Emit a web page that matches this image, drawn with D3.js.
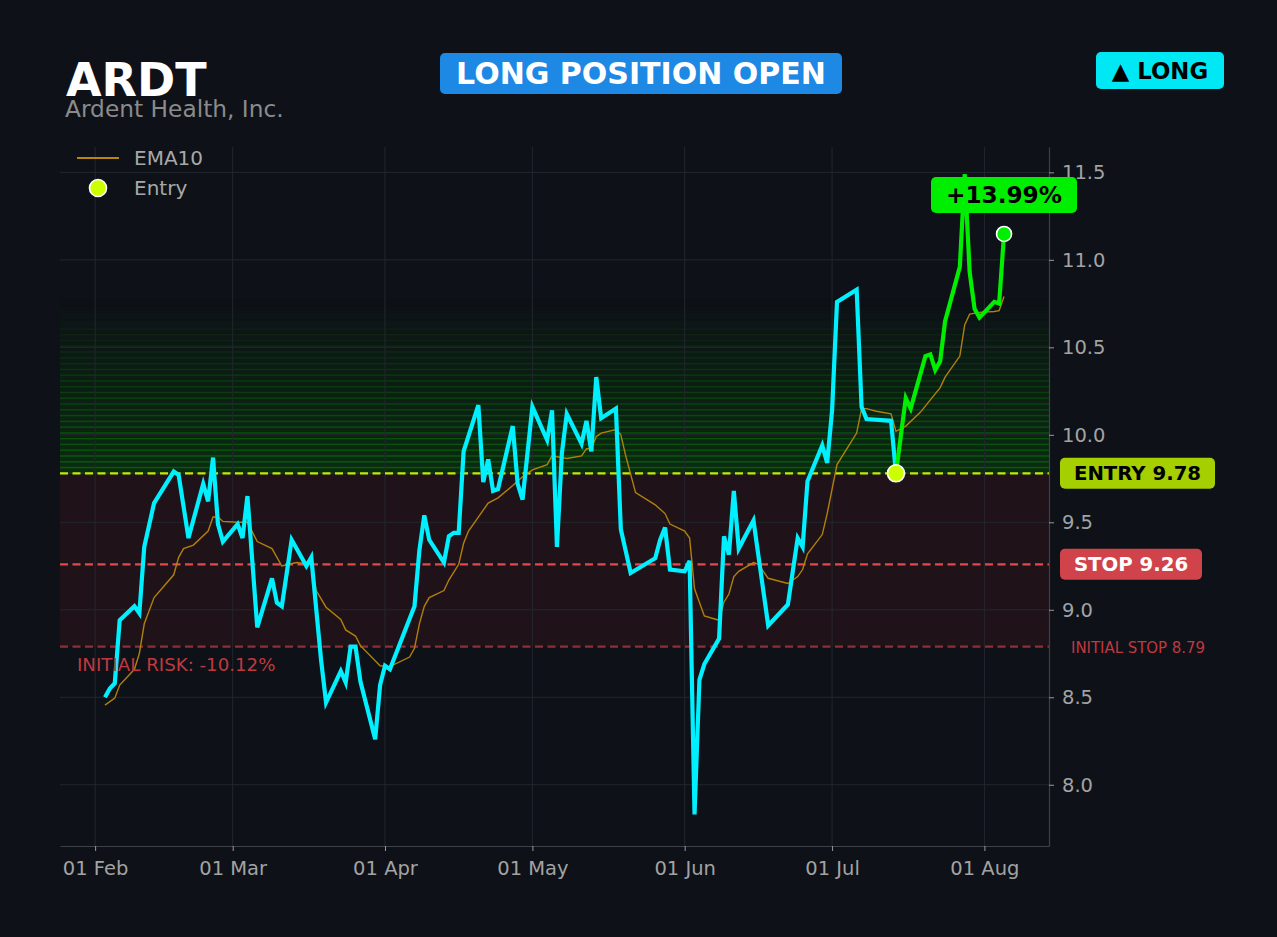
<!DOCTYPE html>
<html><head><meta charset="utf-8">
<script src="https://cdn.jsdelivr.net/npm/d3@7"></script>
<style>
body{margin:0;background:#0e1117;}
svg{display:block;font-family:"DejaVu Sans",sans-serif;}
</style>
</head><body>
<svg id="c" width="1277" height="937"></svg>
<script>
// ---------------- DATA ----------------
const ticker = "ARDT";
const companyName = "Ardent Health, Inc.";
const positionLabel = "LONG POSITION OPEN";
const sideLabel = "▲ LONG";

const priceDates = ["2025-02-03","2025-02-04","2025-02-05","2025-02-06","2025-02-09","2025-02-10","2025-02-11","2025-02-13","2025-02-17","2025-02-18","2025-02-20","2025-02-23","2025-02-24","2025-02-25","2025-02-26","2025-02-27","2025-03-02","2025-03-03","2025-03-04","2025-03-06","2025-03-09","2025-03-10","2025-03-11","2025-03-13","2025-03-16","2025-03-17","2025-03-19","2025-03-20","2025-03-23","2025-03-24","2025-03-25","2025-03-26","2025-03-27","2025-03-30","2025-03-31","2025-04-01","2025-04-02","2025-04-07","2025-04-08","2025-04-09","2025-04-10","2025-04-13","2025-04-14","2025-04-15","2025-04-16","2025-04-17","2025-04-20","2025-04-21","2025-04-22","2025-04-23","2025-04-24","2025-04-27","2025-04-28","2025-04-29","2025-05-01","2025-05-04","2025-05-05","2025-05-06","2025-05-07","2025-05-08","2025-05-11","2025-05-12","2025-05-13","2025-05-14","2025-05-15","2025-05-18","2025-05-19","2025-05-21","2025-05-26","2025-05-27","2025-05-28","2025-05-29","2025-06-01","2025-06-02","2025-06-03","2025-06-04","2025-06-05","2025-06-08","2025-06-09","2025-06-10","2025-06-11","2025-06-12","2025-06-15","2025-06-18","2025-06-22","2025-06-24","2025-06-25","2025-06-26","2025-06-29","2025-06-30","2025-07-01","2025-07-02","2025-07-06","2025-07-07","2025-07-08","2025-07-13","2025-07-14","2025-07-16","2025-07-17","2025-07-20","2025-07-21","2025-07-22","2025-07-23","2025-07-24","2025-07-27","2025-07-28","2025-07-29","2025-07-30","2025-07-31","2025-08-03","2025-08-04","2025-08-05"];
const priceValues = [8.50,8.55,8.58,8.94,9.02,8.98,9.36,9.61,9.79,9.77,9.41,9.72,9.62,9.87,9.49,9.39,9.49,9.41,9.65,8.90,9.18,9.04,9.02,9.40,9.25,9.30,8.71,8.47,8.65,8.585,8.79,8.79,8.59,8.26,8.57,8.68,8.66,9.02,9.34,9.54,9.40,9.27,9.42,9.44,9.44,9.905,10.17,9.73,9.86,9.68,9.69,10.05,9.72,9.63,10.16,9.97,10.14,9.36,9.895,10.12,9.95,10.08,9.905,10.33,10.095,10.15,9.46,9.21,9.295,9.40,9.47,9.23,9.22,9.28,7.83,8.60,8.69,8.835,9.42,9.315,9.68,9.35,9.51,8.91,9.03,9.41,9.36,9.735,9.94,9.84,10.14,10.76,10.83,10.16,10.09,10.08,9.78,10.21,10.15,10.45,10.46,10.37,10.42,10.65,10.96,11.49,10.93,10.72,10.67,10.76,10.75,11.148];

const emaDates = ["2025-02-03","2025-02-05","2025-02-06","2025-02-09","2025-02-10","2025-02-11","2025-02-13","2025-02-17","2025-02-18","2025-02-19","2025-02-21","2025-02-24","2025-02-25","2025-02-26","2025-02-27","2025-03-02","2025-03-04","2025-03-06","2025-03-09","2025-03-11","2025-03-14","2025-03-17","2025-03-18","2025-03-20","2025-03-23","2025-03-24","2025-03-26","2025-03-27","2025-03-31","2025-04-02","2025-04-06","2025-04-07","2025-04-08","2025-04-09","2025-04-10","2025-04-13","2025-04-14","2025-04-16","2025-04-17","2025-04-18","2025-04-20","2025-04-22","2025-04-24","2025-04-27","2025-04-29","2025-05-01","2025-05-04","2025-05-05","2025-05-08","2025-05-11","2025-05-12","2025-05-13","2025-05-14","2025-05-15","2025-05-18","2025-05-19","2025-05-20","2025-05-22","2025-05-26","2025-05-28","2025-05-29","2025-06-01","2025-06-02","2025-06-03","2025-06-05","2025-06-08","2025-06-09","2025-06-10","2025-06-11","2025-06-12","2025-06-15","2025-06-16","2025-06-18","2025-06-22","2025-06-24","2025-06-25","2025-06-26","2025-06-29","2025-06-30","2025-07-01","2025-07-02","2025-07-06","2025-07-07","2025-07-08","2025-07-10","2025-07-13","2025-07-14","2025-07-16","2025-07-19","2025-07-21","2025-07-23","2025-07-24","2025-07-27","2025-07-28","2025-07-29","2025-07-31","2025-08-03","2025-08-04","2025-08-05"];
const emaValues = [8.455,8.495,8.57,8.66,8.75,8.92,9.07,9.20,9.30,9.35,9.37,9.45,9.53,9.53,9.505,9.50,9.50,9.39,9.35,9.25,9.27,9.26,9.11,9.015,8.945,8.885,8.85,8.795,8.68,8.675,8.73,8.78,8.92,9.02,9.07,9.11,9.17,9.26,9.38,9.45,9.53,9.61,9.64,9.71,9.76,9.80,9.83,9.88,9.865,9.88,9.92,9.92,9.99,10.01,10.03,10.00,9.88,9.67,9.60,9.55,9.49,9.45,9.41,9.12,8.965,8.94,9.045,9.09,9.19,9.22,9.27,9.26,9.18,9.15,9.19,9.23,9.32,9.43,9.55,9.69,9.83,10.01,10.15,10.15,10.135,10.12,10.02,10.05,10.13,10.20,10.27,10.33,10.45,10.63,10.69,10.70,10.705,10.71,10.79];

const entryDate = "2025-07-14";
const entryPrice = 9.78;
const stopPrice = 9.26;
const initialStop = 8.79;

const yTicks = [8.0, 8.5, 9.0, 9.5, 10.0, 10.5, 11.0, 11.5];
const xTickDates = ["2025-02-01","2025-03-01","2025-04-01","2025-05-01","2025-06-01","2025-07-01","2025-08-01"];
const legendLabels = ["EMA10", "Entry"];

// ---------------- SETUP ----------------
const W = 1277, H = 937;
const plot = {left: 60, right: 1049, top: 147, bottom: 846};
const parse = d3.timeParse("%Y-%m-%d");
const C = {
  bg: "#0e1117", grid: "#23272e", spine: "#3d4249", tickText: "#a3a3a3",
  price: "#00f0ff", gain: "#00ee00", ema: "#b8860b",
  entry: "#c8e800", stop: "#e04a4a", initStop: "#8e3036",
  entryBox: "#a5cf00", stopBox: "#d0434a", blue: "#1e88e5", cyanBox: "#00e8f4"
};

const price = priceDates.map((d, i) => ({date: parse(d), value: priceValues[i]}));
const ema = emaDates.map((d, i) => ({date: parse(d), value: emaValues[i]}));
const entryD = parse(entryDate);
const entryIdx = price.findIndex(p => +p.date === +entryD);
const before = price.slice(0, entryIdx + 1);
const after = price.slice(entryIdx);

const ext = d3.extent(price, p => p.date);
const pad = (ext[1] - ext[0]) * 0.05;
const x = d3.scaleTime().domain([new Date(+ext[0] - pad), new Date(+ext[1] + pad)]).range([plot.left, plot.right]);
const y = d3.scaleLinear().domain([7.65, 11.645]).range([plot.bottom, plot.top]);

const svg = d3.select("#c");
svg.append("rect").attr("width", W).attr("height", H).attr("fill", C.bg);

const clipId = "plotclip";
svg.append("clipPath").attr("id", clipId).append("rect")
  .attr("x", plot.left).attr("y", plot.top)
  .attr("width", plot.right - plot.left).attr("height", plot.bottom - plot.top);

const g = svg.append("g").attr("clip-path", `url(#${clipId})`);

// risk zone
g.append("rect")
  .attr("x", plot.left).attr("width", plot.right - plot.left)
  .attr("y", y(entryPrice)).attr("height", y(initialStop) - y(entryPrice))
  .attr("fill", "#ff3b3b").attr("fill-opacity", 0.075);

// profit gradient bands
const bandCount = 30;
const bandTop = entryPrice + (entryPrice - initialStop);
const bh = (bandTop - entryPrice) / bandCount;
d3.range(bandCount).forEach(i => {
  const lo = entryPrice + i * bh, hi = lo + bh;
  const a = 0.26 * (1 - i / bandCount);
  g.append("rect")
    .attr("x", plot.left - 2).attr("width", plot.right - plot.left + 4)
    .attr("y", y(hi)).attr("height", y(lo) - y(hi))
    .attr("fill", "#008000").attr("fill-opacity", a * 0.9)
    .attr("stroke", "#0a9a0a").attr("stroke-opacity", a).attr("stroke-width", 1.5);
});

// grid
g.selectAll(".vg").data(xTickDates.map(parse)).join("line")
  .attr("x1", d => x(d)).attr("x2", d => x(d))
  .attr("y1", plot.top).attr("y2", plot.bottom)
  .attr("stroke", C.grid).attr("stroke-width", 1);
g.selectAll(".hg").data(yTicks).join("line")
  .attr("x1", plot.left).attr("x2", plot.right)
  .attr("y1", d => y(d)).attr("y2", d => y(d))
  .attr("stroke", C.grid).attr("stroke-width", 1);

// level lines
const levels = [
  {v: entryPrice, c: C.entry},
  {v: stopPrice, c: C.stop},
  {v: initialStop, c: C.initStop}
];
levels.forEach(l => {
  g.append("line").attr("x1", plot.left).attr("x2", plot.right)
    .attr("y1", y(l.v)).attr("y2", y(l.v))
    .attr("stroke", l.c).attr("stroke-width", 2.2)
    .attr("stroke-dasharray", "8,4.5");
});

// lines
const line = d3.line().x(d => x(d.date)).y(d => y(d.value));
g.append("path").datum(ema).attr("d", line)
  .attr("fill", "none").attr("stroke", C.ema).attr("stroke-width", 1.4).attr("stroke-opacity", 0.95);
g.append("path").datum(before).attr("d", line)
  .attr("fill", "none").attr("stroke", C.price).attr("stroke-width", 4.2);
g.append("path").datum(after).attr("d", line)
  .attr("fill", "none").attr("stroke", C.gain).attr("stroke-width", 4.2);

// markers
const last = price[price.length - 1];
svg.append("circle").attr("cx", x(entryD)).attr("cy", y(entryPrice)).attr("r", 8.5)
  .attr("fill", "#ccff00").attr("stroke", "#ffffff").attr("stroke-width", 1.6);
svg.append("circle").attr("cx", x(last.date)).attr("cy", y(last.value)).attr("r", 7.5)
  .attr("fill", C.gain).attr("stroke", "#ffffff").attr("stroke-width", 1.6);

// axes
const xAxis = d3.axisBottom(x).tickValues(xTickDates.map(parse))
  .tickFormat(d3.timeFormat("%d %b")).tickSizeInner(5).tickSizeOuter(0).tickPadding(10);
const yAxis = d3.axisRight(y).tickValues(yTicks)
  .tickFormat(d3.format(".1f")).tickSizeInner(5).tickSizeOuter(0).tickPadding(8);
const gx = svg.append("g").attr("transform", `translate(0,${plot.bottom})`).call(xAxis);
const gy = svg.append("g").attr("transform", `translate(${plot.right},0)`).call(yAxis);
[gx, gy].forEach(a => {
  a.select(".domain").attr("stroke", C.spine).attr("stroke-width", 1.2);
  a.selectAll(".tick line").attr("stroke", "#9a9a9a").attr("stroke-width", 1);
  a.selectAll(".tick text").attr("fill", C.tickText).attr("font-size", 19.5)
    .attr("font-family", "DejaVu Sans");
});

// right-side level labels
function badge(cx, cy, w, h, fill, text, color, size) {
  svg.append("rect").attr("x", cx).attr("y", cy).attr("width", w).attr("height", h)
    .attr("rx", 5).attr("fill", fill);
  svg.append("text").attr("x", cx + w / 2).attr("y", cy + h / 2)
    .attr("dy", "0.36em").attr("text-anchor", "middle")
    .attr("font-weight", "bold").attr("font-size", size).attr("fill", color).text(text);
}
badge(1060, y(entryPrice) - 15.5, 155, 31, C.entryBox, `ENTRY ${entryPrice.toFixed(2)}`, "#000", 19.7);
badge(1060, y(stopPrice) - 15.5, 142, 31, C.stopBox, `STOP ${stopPrice.toFixed(2)}`, "#fff", 19.7);
svg.append("text").attr("x", 1071).attr("y", y(initialStop)).attr("dy", "0.36em")
  .attr("font-family", "'DejaVu Sans Condensed','Liberation Sans Narrow','DejaVu Sans'")
  .attr("font-stretch", "condensed")
  .attr("font-size", 16.6).attr("fill", "#c0393f").text(`INITIAL STOP ${initialStop.toFixed(2)}`);

// initial risk
const riskPct = (initialStop / entryPrice - 1) * 100;
svg.append("text").attr("x", 77).attr("y", y(initialStop) + 24)
  .attr("font-size", 18.2).attr("fill", "#c0393f")
  .text(`INITIAL RISK: ${riskPct.toFixed(2)}%`);

// gain badge
const gainPct = (last.value / entryPrice - 1) * 100;
badge(931, 177, 146, 36, C.gain, `+${gainPct.toFixed(2)}%`, "#000", 23.2);

// title
svg.append("text").attr("x", 66).attr("y", 96).attr("font-size", 46).attr("font-weight", "bold")
  .attr("fill", "#ffffff").text(ticker);
svg.append("text").attr("x", 65).attr("y", 117).attr("font-size", 23.3)
  .attr("fill", "#8b8b8b").text(companyName);
badge(440, 53, 402, 41, C.blue, positionLabel, "#fff", 30);
badge(1096, 52, 128, 37, C.cyanBox, sideLabel, "#000", 22.8);

// legend
const lg = svg.append("g");
lg.append("line").attr("x1", 77).attr("x2", 119).attr("y1", 158).attr("y2", 158)
  .attr("stroke", C.ema).attr("stroke-width", 2);
lg.append("circle").attr("cx", 98).attr("cy", 188).attr("r", 8.5)
  .attr("fill", "#ccff00").attr("stroke", "#fff").attr("stroke-width", 1.6);
legendLabels.forEach((t, i) => {
  lg.append("text").attr("x", 134).attr("y", 158 + i * 30).attr("dy", "0.36em")
    .attr("font-size", 20).attr("fill", "#a8a8a8").text(t);
});
</script>
</body></html>
